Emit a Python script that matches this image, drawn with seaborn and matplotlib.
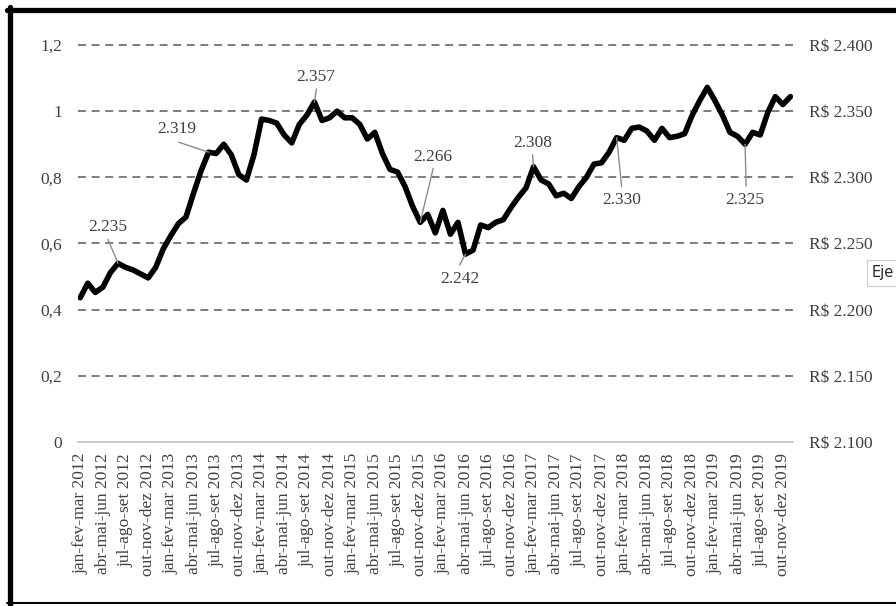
import numpy as np
import pandas as pd
import seaborn as sns
import matplotlib.pyplot as plt
from matplotlib.lines import Line2D

# rolling quarters jan-fev-mar 2012 ... (95 monthly points)
quarters = ["jan-fev-mar", "abr-mai-jun", "jul-ago-set", "out-nov-dez"]
years = list(range(2012, 2020))
tick_labels = [f"{q} {y}" for y in years for q in quarters]

renda = [2209, 2220, 2213, 2217, 2228, 2235, 2232, 2230, 2227, 2224,
         2232, 2246, 2256, 2265, 2270, 2288, 2305, 2319, 2318, 2325,
         2317, 2302, 2298, 2317, 2344, 2343, 2341, 2332, 2326, 2340,
         2347, 2357, 2343, 2345, 2350, 2345, 2345, 2340, 2329, 2334,
         2318, 2306, 2304, 2293, 2278, 2266, 2272, 2258, 2275, 2257,
         2266, 2242, 2245, 2264, 2262, 2266, 2268, 2277, 2285, 2292,
         2308, 2298, 2295, 2286, 2288, 2284, 2293, 2300, 2310, 2311,
         2319, 2330, 2328, 2337, 2338, 2335, 2328, 2337, 2330, 2331,
         2333, 2347, 2358, 2368, 2358, 2347, 2334, 2331, 2325, 2334,
         2332, 2349, 2361, 2355, 2361]

left_ticks = [0, 0.2, 0.4, 0.6, 0.8, 1.0, 1.2]
left_labels = ["0", "0,2", "0,4", "0,6", "0,8", "1", "1,2"]
right_ticks = [2100, 2150, 2200, 2250, 2300, 2350, 2400]
right_labels = ["R$ 2.100", "R$ 2.150", "R$ 2.200", "R$ 2.250",
                "R$ 2.300", "R$ 2.350", "R$ 2.400"]

annot_idx = [5, 17, 31, 45, 51, 60, 71, 88]
annot_text = ["2.235", "2.319", "2.357", "2.266", "2.242", "2.308", "2.330", "2.325"]
# (text offset, leader end offset) in pixels
annot_pos = [((-10, 36), (-10, 24)), ((-32, 23), (-30, 10)), ((1, 25), (2, 13)),
             ((13, 65), (13, 54)), ((-6, -25), (-6, -11)), ((-1, 24), (-1, 12)),
             ((5, -62), (5, -49)), ((0, -56), (1, -42))]

df = pd.DataFrame({"idx": np.arange(len(renda)), "renda": renda})

sns.set_style("white")
plt.rcParams["font.family"] = ["Liberation Serif", "DejaVu Serif"]
txt_color = "#404040"
fs = 12.5

fig = plt.figure(figsize=(8.96, 6.06), dpi=100)
ax = fig.add_axes([78.3 / 896, 164 / 606, 714.4 / 896, 397 / 606])
ax2 = ax.twinx()

for y in left_ticks[1:]:
    ax.axhline(y, color="#595959", lw=1.1, ls=(0, (5.2, 3.7)), clip_on=False)

sns.lineplot(data=df, x="idx", y="renda", ax=ax2, color="black", linewidth=4)
ax2.lines[0].set_solid_joinstyle("round")

ax.set_ylim(0, 1.2)
ax2.set_ylim(2100, 2400)
ax.set_xlim(-0.25, 94.3)

ax.set_yticks(left_ticks)
ax.set_yticklabels(left_labels)
ax2.set_yticks(right_ticks)
ax2.set_yticklabels(right_labels)
ax.set_xticks(range(0, len(renda), 3))
ax.set_xticklabels(tick_labels, rotation=90)

ax.tick_params(axis="y", length=0, pad=11.5, labelsize=fs, labelcolor=txt_color)
ax2.tick_params(axis="y", length=0, pad=11.5, labelsize=fs, labelcolor=txt_color)
ax.tick_params(axis="x", length=0, pad=8, labelsize=fs, labelcolor=txt_color)
ax.set_xlabel("")
ax2.set_xlabel("")
ax2.set_ylabel("")

for a in (ax, ax2):
    for s in a.spines.values():
        s.set_visible(False)
ax.spines["bottom"].set_visible(True)
ax.spines["bottom"].set_color("#c8c8c8")
ax.spines["bottom"].set_linewidth(1.3)

for i, t, (toff, loff) in zip(annot_idx, annot_text, annot_pos):
    ax2.annotate("", xy=(i, renda[i]), xytext=loff, textcoords="offset pixels",
                 arrowprops=dict(arrowstyle="-", color="#8c8c8c", lw=1.0,
                                 shrinkA=0, shrinkB=0))
    ax2.annotate(t, xy=(i, renda[i]), xytext=toff, textcoords="offset pixels",
                 ha="center", va="center", fontsize=fs, color=txt_color)

# black frame of the screenshot
W, H = 896, 606
fig.add_artist(Line2D([7 / W, 1], [1 - 9.5 / H, 1 - 9.5 / H], color="black", lw=3.8,
                      transform=fig.transFigure))
fig.add_artist(Line2D([9.5 / W, 9.5 / W], [1 - 7 / H, 0.3 / H], color="black", lw=3.8,
                      transform=fig.transFigure))
fig.add_artist(Line2D([7 / W, 1], [3 / H, 3 / H], color="black", lw=1.5,
                      transform=fig.transFigure))

# cut-off tooltip at the right edge
fig.text(872 / W, 1 - 273 / H, "Eje", fontsize=10.5, family="DejaVu Sans", va="center",
         bbox=dict(boxstyle="square,pad=0.35", fc="white", ec="#cccccc", lw=0.8))

fig.savefig("out.png", dpi=100)
